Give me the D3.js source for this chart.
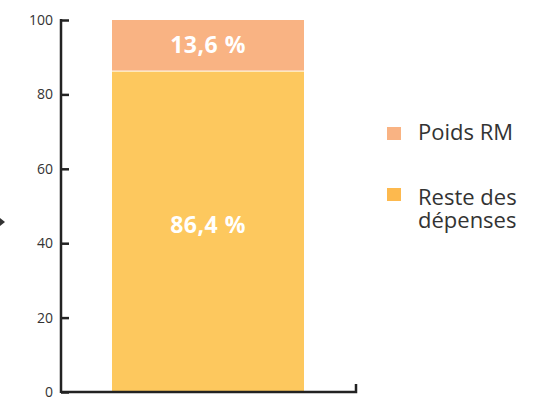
<!DOCTYPE html>
<html><head><meta charset="utf-8">
<script src="https://cdn.jsdelivr.net/npm/d3@7"></script>
<style>body{margin:0;background:#fff}svg{display:block}</style>
</head><body>
<script>
const categories = ["Dépenses"];
const seriesNames = ["Reste des dépenses", "Poids RM"];
const resteValues = [86.4];
const poidsValues = [13.6];
const valueLabels = [["86,4 %"], ["13,6 %"]];
const yTicks = [0, 20, 40, 60, 80, 100];
const colors = ["#FDC85E", "#F9B383"];
const legendColors = ["#FDB94E", "#F9B383"];

const W = 534, H = 401;
const svg = d3.select("body").append("svg").attr("width", W).attr("height", H);
const font = "'Open Sans', sans-serif";

const y = d3.scaleLinear().domain([0, 100]).range([392, 20]);
const x = d3.scaleBand().domain(categories).range([112, 304]).padding(0);

const data = categories.map((c, i) => ({cat: c, reste: resteValues[i], poids: poidsValues[i]}));
const stack = d3.stack().keys(["reste", "poids"])(data);

const g = svg.append("g");
stack.forEach((layer, li) => {
  g.selectAll(null).data(layer).enter().append("rect")
    .attr("x", d => x(d.data.cat))
    .attr("width", x.bandwidth())
    .attr("y", d => y(d[1]) + (li === 0 ? 1 : 0))
    .attr("height", d => y(d[0]) - y(d[1]) - (li === 0 ? 1 : 0))
    .attr("fill", colors[li]);
  g.selectAll(null).data(layer).enter().append("text")
    .attr("x", d => x(d.data.cat) + x.bandwidth() / 2)
    .attr("y", d => (y(d[0]) + y(d[1])) / 2 + (li === 0 ? 2 : 8))
    .attr("text-anchor", "middle")
    .attr("fill", "#fff")
    .attr("font-family", font)
    .attr("font-weight", "bold")
    .attr("font-size", 23)
    .attr("letter-spacing", 0.5)
    .text((d, i) => valueLabels[li][i]);
});

// y axis
const yAxis = d3.axisRight(y).tickValues(yTicks).tickSize(8).tickFormat("");
const ya = svg.append("g").attr("transform", "translate(61,0)").call(yAxis);
ya.select(".domain").remove();
ya.selectAll(".tick line").attr("stroke", "#222").attr("stroke-width", 2.5);
svg.append("line").attr("x1", 61).attr("x2", 61).attr("y1", y(100) - 1).attr("y2", y(0) + 1)
  .attr("stroke", "#222").attr("stroke-width", 2.5);
svg.selectAll(".ylab").data(yTicks).enter().append("text")
  .attr("x", 53).attr("y", d => y(d) + 5)
  .attr("text-anchor", "end").attr("font-family", font).attr("font-size", 14).attr("fill", "#333")
  .text(d => d);

// x axis
svg.append("path").attr("d", `M61,${y(0)}H356V${y(0) - 8}`)
  .attr("fill", "none").attr("stroke", "#222").attr("stroke-width", 2.5);

// small arrow at left edge
svg.append("path").attr("d", "M0,218 L5,222 L0,226 Z").attr("fill", "#333");

// legend
const legendItems = [
  {name: ["Poids RM"], color: legendColors[1], y: 127, base: 140},
  {name: ["Reste des", "dépenses"], color: legendColors[0], y: 188, base: 205}
];
legendItems.forEach(it => {
  svg.append("rect").attr("x", 387).attr("y", it.y).attr("width", 14).attr("height", 13).attr("fill", it.color);
  it.name.forEach((n, i) => svg.append("text").attr("x", 418).attr("y", it.base + i * 23)
    .attr("font-family", font).attr("font-size", 22).attr("fill", "#333").text(n));
});
</script>
</body></html>
